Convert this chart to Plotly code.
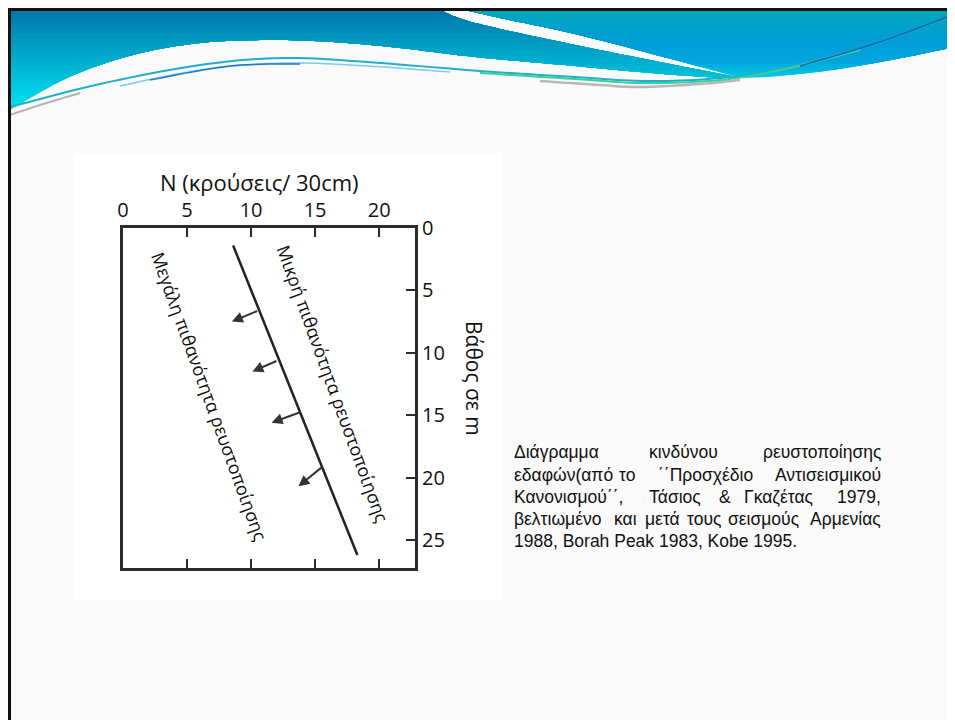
import numpy as np
import plotly.graph_objects as go

# ---------------- data ----------------
n_ticks = [0, 5, 10, 15, 20]
depth_ticks = [0, 5, 10, 15, 20, 25]

boundary_n = [8.6, 18.3]          # N (blows / 30cm)
boundary_depth = [1.4, 26.2]      # depth (m)

arrow_tail_n = [10.6, 12.1, 14.0, 15.6]
arrow_tail_depth = [6.6, 10.6, 14.7, 19.1]
arrow_head_n = [8.5, 10.1, 11.6, 13.7]
arrow_head_depth = [7.5, 11.5, 15.6, 20.7]

zone_labels = ["Μεγάλη πιθανότητα ρευστοποίησης", "Μικρή πιθανότητα ρευστοποίησης"]
zone_label_n = [6.8, 16.4]
zone_label_depth = [13.5, 12.5]

x_title = "N (κρούσεις/ 30cm)"
y_title = "Βάθος σε m"

W, H = 955, 720
OFF = 8  # page body margin


def px(x):
    return (x - OFF) / W


def py(y):
    return 1 - (y - OFF) / H


def smooth(pts, n=10):
    pts = np.array(pts, float)
    P = np.vstack([pts[0], pts, pts[-1]])
    out = []
    for i in range(1, len(P) - 2):
        p0, p1, p2, p3 = P[i - 1], P[i], P[i + 1], P[i + 2]
        for t in np.linspace(0, 1, n, endpoint=False):
            t2, t3 = t * t, t * t * t
            out.append(0.5 * ((2 * p1) + (-p0 + p2) * t + (2 * p0 - 5 * p1 + 4 * p2 - p3) * t2
                              + (-p0 + 3 * p1 - 3 * p2 + p3) * t3))
    out.append(P[-2])
    return np.array(out)


def path_of(pts, close=True):
    s = "M " + " L ".join(f"{px(x):.5f},{py(y):.5f}" for x, y in pts)
    return s + (" Z" if close else "")


def hex2rgb(h):
    h = h.lstrip("#")
    return [int(h[i:i + 2], 16) for i in (0, 2, 4)]


def color_at(stops, y):
    ys = [s[0] for s in stops]
    cols = [hex2rgb(s[1]) for s in stops]
    r = [np.interp(y, ys, [c[i] for c in cols]) for i in range(3)]
    return "rgb(%d,%d,%d)" % tuple(int(round(v)) for v in r)


shapes = []

# background of embedded picture
shapes.append(dict(type="rect", xref="paper", yref="paper", x0=px(73), x1=px(502), y0=py(600), y1=py(153),
                   fillcolor="#FFFFFF", line=dict(width=0), layer="below"))

# banner regions
bottom_curve = smooth([(10, 110), (67, 78), (133, 55), (200, 43), (267, 40), (333, 42), (400, 48),
                       (475, 57), (575, 66), (675, 75), (742, 78), (808, 73), (875, 63), (955, 47), (970, 43)])
swoosh_low = smooth([(440, 10), (475, 23), (575, 45), (675, 65), (742, 78)])
swoosh_up = smooth([(465, 10), (500, 18), (575, 34), (675, 60), (742, 78)])

left_bottom = bottom_curve[bottom_curve[:, 0] <= 742]
right_bottom = bottom_curve[bottom_curve[:, 0] >= 742]

left_poly = np.vstack([[(10, 10)], swoosh_low, left_bottom[::-1]])
right_poly = np.vstack([[(465, 10), (970, 10)], right_bottom[::-1], swoosh_up[::-1]])

left_stops = [(10, "#0077AA"), (50, "#00A3C6"), (112, "#00E6F2")]
right_stops = [(10, "#00A8BA"), (40, "#009CD6"), (62, "#00A6DE"), (80, "#00D0E6")]


def add_gradient(poly, stops, ymax, nb=22):
    shapes.append(dict(type="path", xref="paper", yref="paper", path=path_of(poly),
                       fillcolor=color_at(stops, ymax), line=dict(width=0), layer="below"))
    ks = np.linspace(10, ymax, nb + 1)[1:-1]
    dy = ks[1] - ks[0]
    for k in ks[::-1]:
        clamped = poly.copy()
        clamped[:, 1] = np.minimum(clamped[:, 1], k)
        shapes.append(dict(type="path", xref="paper", yref="paper", path=path_of(clamped),
                           fillcolor=color_at(stops, k - dy / 2), line=dict(width=0), layer="below"))


add_gradient(left_poly, left_stops, 112)
add_gradient(right_poly, right_stops, 80)

# thin swoosh lines
deco_lines = [
    ([(10, 115), (40, 105), (80, 93)], "#B3B3B3", 2),
    ([(540, 81), (600, 85), (640, 87), (700, 84), (740, 80)], "#B8B8B8", 2.5),
    ([(10, 107), (100, 84), (200, 65), (283, 58), (367, 62), (480, 71), (575, 77), (642, 81), (708, 79),
      (775, 70), (875, 44), (960, 12)], "#22AECB", 2),
    ([(120, 86), (200, 70), (283, 63), (367, 66), (450, 72)], "#7CCBE8", 1.5),
    ([(150, 80), (230, 66), (300, 64)], "#1E78C8", 1.5),
    ([(480, 73), (575, 79), (642, 83), (720, 80), (790, 68), (860, 50)], "#3ACF9C", 2),
    ([(800, 66), (880, 42), (960, 12)], "#1565B5", 1.5),
]
for pts, col, w in deco_lines:
    shapes.append(dict(type="path", xref="paper", yref="paper", path=path_of(smooth(pts), close=False),
                       line=dict(color=col, width=w), layer="below"))

# slide border
shapes.append(dict(type="line", xref="paper", yref="paper", x0=px(8), x1=px(970), y0=py(9.5), y1=py(9.5),
                   line=dict(color="#111111", width=3), layer="above"))
shapes.append(dict(type="line", xref="paper", yref="paper", x0=px(9.5), x1=px(9.5), y0=py(8), y1=py(730),
                   line=dict(color="#111111", width=3), layer="above"))

# ---------------- figure ----------------
fig = go.Figure()
fig.add_trace(go.Scatter(x=boundary_n, y=boundary_depth, mode="lines",
                         line=dict(color="#222222", width=2.5), hoverinfo="skip", showlegend=False))

annotations = []
for tx, ty, hx, hy in zip(arrow_tail_n, arrow_tail_depth, arrow_head_n, arrow_head_depth):
    annotations.append(dict(x=hx, y=hy, ax=tx, ay=ty, xref="x", yref="y", axref="x", ayref="y",
                            text="", showarrow=True, arrowhead=2, arrowsize=1.1, arrowwidth=2,
                            arrowcolor="#333333"))

for lab, lx, ly in zip(zone_labels, zone_label_n, zone_label_depth):
    annotations.append(dict(x=lx, y=ly, xref="x", yref="y", text=lab, showarrow=False, textangle=70,
                            xanchor="center", yanchor="middle",
                            font=dict(family="Open Sans", size=18, color="#111111")))

annotations.append(dict(x=px(259), y=py(182), xref="paper", yref="paper", text=x_title, showarrow=False,
                        xanchor="center", yanchor="middle",
                        font=dict(family="Open Sans", size=22, color="#111111")))
annotations.append(dict(x=px(474), y=py(378), xref="paper", yref="paper", text=y_title, showarrow=False,
                        xanchor="center", yanchor="middle", textangle=90,
                        font=dict(family="Open Sans", size=21, color="#111111")))

# caption text (justified by word placement)
cap_font = dict(family="Liberation Sans", size=17.5, color="#111111")
caption_words = [
    (452, [("Διάγραμμα", 512, "left"), ("κινδύνου", 683, "center"), ("ρευστοποίησης", 883, "right")]),
    (475, [("εδαφών(από", 512, "left"), ("το", 627, "center"), ("΄΄Προσχέδιο", 705, "center"),
           ("Αντισεισμικού", 883, "right")]),
    (497, [("Κανονισμού΄΄,", 512, "left"), ("Τάσιος", 675, "center"), ("&", 725, "center"),
           ("Γκαζέτας", 778, "center"), ("1979,", 883, "right")]),
    (519, [("βελτιωμένο", 512, "left"), ("και", 625, "center"), ("μετά", 662, "center"),
           ("τους", 704, "center"), ("σεισμούς", 763, "center"), ("Αρμενίας", 883, "right")]),
    (541, [("1988, Borah Peak 1983, Kobe 1995.", 512, "left")]),
]
for yy, words in caption_words:
    for w, xx, anc in words:
        annotations.append(dict(x=px(xx), y=py(yy), xref="paper", yref="paper", text=w, showarrow=False,
                                xanchor=anc, yanchor="middle", font=cap_font))

axis_common = dict(showline=True, linewidth=3, linecolor="#2b2b2b", ticks="inside", ticklen=9,
                   tickwidth=2, tickcolor="#2b2b2b", showgrid=False, zeroline=False, automargin=False,
                   tickfont=dict(family="Open Sans", size=20, color="#111111"))

fig.update_layout(
    width=W, height=H, margin=dict(l=0, r=0, t=0, b=0, autoexpand=False),
    paper_bgcolor="#FAFAFA", plot_bgcolor="rgba(0,0,0,0)",
    xaxis=dict(domain=[px(123), px(415)], range=[0, 22.8], side="top", tickvals=n_ticks,
               mirror="ticks", **axis_common),
    yaxis=dict(domain=[py(568), py(228)], range=[27.24, 0], side="right", tickvals=depth_ticks,
               mirror=True, **axis_common),
    shapes=shapes, annotations=annotations, showlegend=False,
)

fig.write_html("out.html")
